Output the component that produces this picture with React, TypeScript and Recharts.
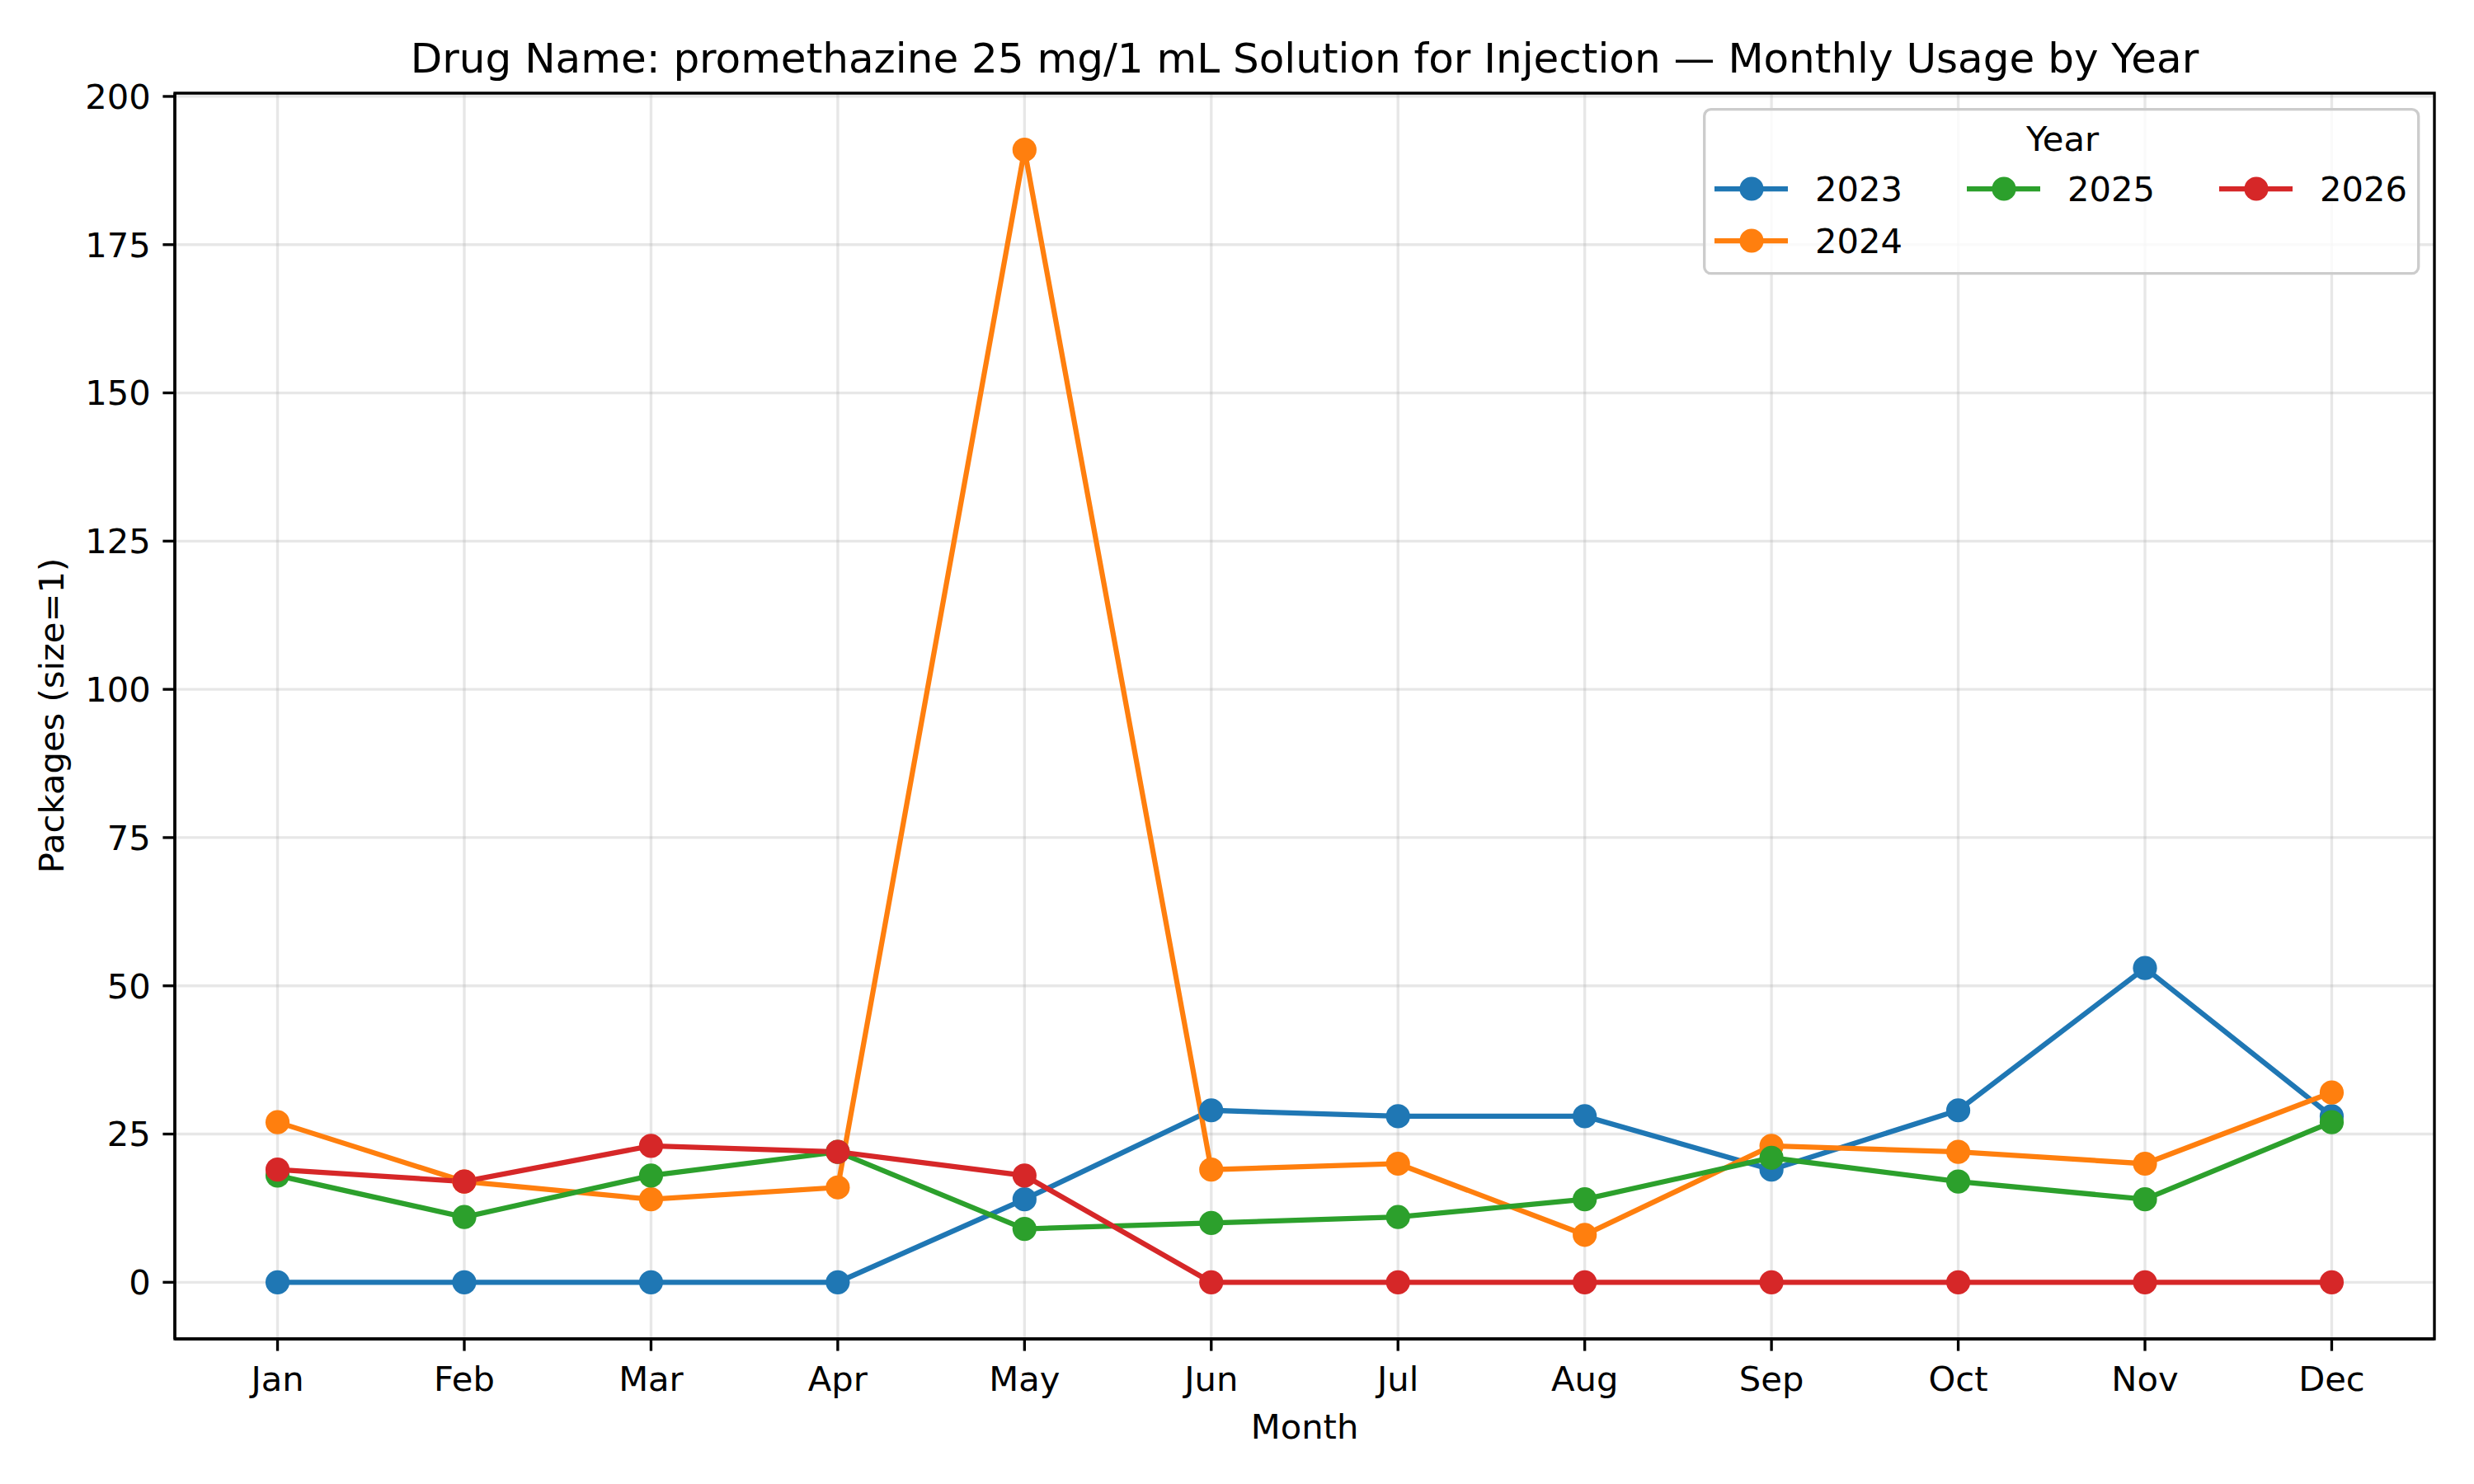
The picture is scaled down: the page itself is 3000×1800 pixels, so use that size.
import { LineChart, Line, XAxis, YAxis, CartesianGrid, ReferenceArea } from "recharts"

const MONTHS = ["Jan", "Feb", "Mar", "Apr", "May", "Jun", "Jul", "Aug", "Sep", "Oct", "Nov", "Dec"]
const Y_TICKS = [0, 25, 50, 75, 100, 125, 150, 175, 200]

const usage2023 = [0, 0, 0, 0, 14, 29, 28, 28, 19, 29, 53, 28]
const usage2024 = [27, 17, 14, 16, 191, 19, 20, 8, 23, 22, 20, 32]
const usage2025 = [18, 11, 18, 22, 9, 10, 11, 14, 21, 17, 14, 27]
const usage2026 = [19, 17, 23, 22, 18, 0, 0, 0, 0, 0, 0, 0]

const SERIES = [
  { key: "y2023", name: "2023", color: "#1f77b4", values: usage2023 },
  { key: "y2024", name: "2024", color: "#ff7f0e", values: usage2024 },
  { key: "y2025", name: "2025", color: "#2ca02c", values: usage2025 },
  { key: "y2026", name: "2026", color: "#d62728", values: usage2026 },
]

const rows = MONTHS.map((_, i) => {
  const row: Record<string, number> = { m: i }
  SERIES.forEach((s) => (row[s.key] = s.values[i]))
  return row
})

const FONT = "'DejaVu Sans', sans-serif"
const TICK_FONT = { fontFamily: FONT, fontSize: 41.67, fill: "#000" }
const SPINE = 3.33
const DOT_R = 14.6

// legend laid out in three columns, filled column by column
const LEGEND_SLOTS = [
  { col: 0, row: 0 },
  { col: 0, row: 1 },
  { col: 1, row: 0 },
  { col: 2, row: 0 },
]
const COL_X = [14, 320, 626]
const ROW_Y = [98, 161]

function YearLegend() {
  return (
    <svg
      width={870}
      height={203}
      style={{ position: "absolute", left: 2065, top: 131, fontFamily: FONT }}
    >
      <rect x={1.7} y={1.7} width={866} height={199} rx={8} fill="#fff" fillOpacity={0.8} stroke="#cccccc" strokeWidth={SPINE} />
      <text x={436} y={52} textAnchor="middle" fontSize={41.67} fill="#000">Year</text>
      {SERIES.map((s, i) => {
        const x = COL_X[LEGEND_SLOTS[i].col]
        const y = ROW_Y[LEGEND_SLOTS[i].row]
        return (
          <g key={s.key}>
            <line x1={x} x2={x + 89} y1={y} y2={y} stroke={s.color} strokeWidth={6.25} />
            <circle cx={x + 45} cy={y} r={DOT_R} fill={s.color} />
            <text x={x + 122} y={y + 15} fontSize={41.67} fill="#000">{s.name}</text>
          </g>
        )
      })}
    </svg>
  )
}

export default function App() {
  return (
    <div style={{ position: "absolute", left: 0, top: 0, width: 3000, height: 1800, background: "#fff" }}>
      <LineChart width={3000} height={1800} data={rows} margin={{ top: 113, right: 48, left: 0, bottom: 0 }}>
        <CartesianGrid stroke="#b0b0b0" strokeOpacity={0.3} strokeWidth={SPINE} />
        <XAxis
          dataKey="m"
          type="number"
          domain={[-0.55, 11.55]}
          ticks={MONTHS.map((_, i) => i)}
          interval={0}
          allowDataOverflow
          tickFormatter={(v: number) => MONTHS[v]}
          height={176}
          tickSize={14.6}
          tickMargin={18.5}
          tick={TICK_FONT}
          axisLine={{ stroke: "#000", strokeWidth: SPINE }}
          tickLine={{ stroke: "#000", strokeWidth: SPINE }}
        />
        <YAxis
          type="number"
          domain={[-9.55, 200.55]}
          ticks={Y_TICKS}
          interval={0}
          allowDataOverflow
          width={212}
          tickSize={14.6}
          tickMargin={14.6}
          tick={TICK_FONT}
          axisLine={{ stroke: "#000", strokeWidth: SPINE }}
          tickLine={{ stroke: "#000", strokeWidth: SPINE }}
        />
        {SERIES.map((s) => (
          <Line
            key={s.key}
            dataKey={s.key}
            name={s.name}
            type="linear"
            stroke={s.color}
            strokeWidth={6.25}
            dot={{ r: DOT_R, fill: s.color, stroke: s.color, strokeWidth: 0 }}
            activeDot={false}
            isAnimationActive={false}
          />
        ))}
        <ReferenceArea
          x1={-0.55}
          x2={11.55}
          y1={-9.55}
          y2={200.55}
          fill="none"
          stroke="#000"
          strokeWidth={SPINE}
          ifOverflow="visible"
        />
      </LineChart>
      <YearLegend />
      <div
        style={{
          position: "absolute", left: 212, width: 2740, top: 40, lineHeight: "62px",
          textAlign: "center", fontFamily: FONT, fontSize: 50, color: "#000",
        }}
      >
        Drug Name: promethazine 25 mg/1 mL Solution for Injection — Monthly Usage by Year
      </div>
      <div
        style={{
          position: "absolute", left: 212, width: 2740, top: 1705, lineHeight: "52px",
          textAlign: "center", fontFamily: FONT, fontSize: 41.67, color: "#000",
        }}
      >
        Month
      </div>
      <div
        style={{
          position: "absolute", left: 63 - 400, width: 800, top: 868 - 26, lineHeight: "52px",
          textAlign: "center", fontFamily: FONT, fontSize: 41.67, color: "#000",
          transform: "rotate(-90deg)",
        }}
      >
        Packages (size=1)
      </div>
    </div>
  )
}
